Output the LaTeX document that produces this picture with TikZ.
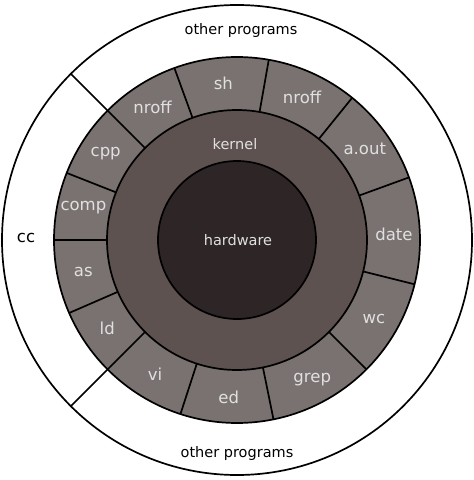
\documentclass[tikz,border=0pt]{standalone}
\usepackage{fontspec}
\setmainfont{DejaVu Sans}
\usepackage{xcolor}
\newcommand{\PrgSize}{\fontsize{16.5}{16.5}\selectfont}
\newcommand{\MidSize}{\fontsize{14.5}{14.5}\selectfont}
\newcommand{\OtherPrograms}{\MidSize other programs}
\newcommand{\Kernel}{\MidSize kernel}
\newcommand{\Hardware}{\MidSize hardware}
\definecolor{mygray}{rgb}{0.478,0.447,0.443}
\definecolor{mybrown}{rgb}{0.365,0.322,0.314}
\definecolor{mydark}{rgb}{0.180,0.149,0.149}
\definecolor{mylight}{rgb}{0.88,0.88,0.88}

\begin{document}
\begin{tikzpicture}[x=1pt,y=1pt,line width=1.7pt,
    prog/.style={text=mylight,font=\PrgSize,inner sep=0pt}]
  \useasboundingbox (-237,-240) rectangle (237,240);

  \filldraw[fill=white]   (0,0) circle (235);
  \filldraw[fill=mygray]  (0,0) circle (183);
  \filldraw[fill=mybrown] (0,0) circle (130);
  \filldraw[fill=mydark]  (0,0) circle (79);

  % ring dividers
  \draw (20:130)    -- (20:183);
  \draw (51:130)    -- (51:183);
  \draw (80:130)    -- (80:183);
  \draw (110:130)   -- (110:183);
  \draw (135:130)   -- (135:235);
  \draw (158.5:130) -- (158.5:183);
  \draw (180:130)   -- (180:183);
  \draw (203.5:130) -- (203.5:183);
  \draw (225:130)   -- (225:235);
  \draw (252:130)   -- (252:183);
  \draw (281.5:130) -- (281.5:183);
  \draw (315:130)   -- (315:183);
  \draw (346:130)   -- (346:183);

  \node[prog] (date)   at (2:157)      {date};
  \node[prog] (aout)   at (35.5:157)   {a.out};
  \node[prog] (nroffR) at (65.5:157)   {nroff};
  \node[prog] (sh)     at (95:157)     {sh};
  \node[prog] (nroffL) at (122.5:157)  {nroff};
  \node[prog] (cpp)    at (146.75:157) {cpp};
  \node[prog] (comp)   at (168:157)    {comp};
  \node[prog] (as)     at (191.75:157) {as};
  \node[prog] (ld)     at (214.25:157) {ld};
  \node[prog] (vi)     at (238.5:157)  {vi};
  \node[prog] (ed)     at (267:158)    {ed};
  \node[prog] (grep)   at (298.25:159) {grep};
  \node[prog] (wc)     at (330:158)    {wc};

  \node[text=mylight] (kernel)   at (-2,96) {\Kernel};
  \node[text=mylight] (hardware) at (1,0)   {\Hardware};
  \node (otherT) at (4,209)   {\OtherPrograms};
  \node (otherB) at (0,-213)  {\OtherPrograms};
  \node (cc)     at (-211,2)  {\PrgSize cc};
\end{tikzpicture}
\end{document}
